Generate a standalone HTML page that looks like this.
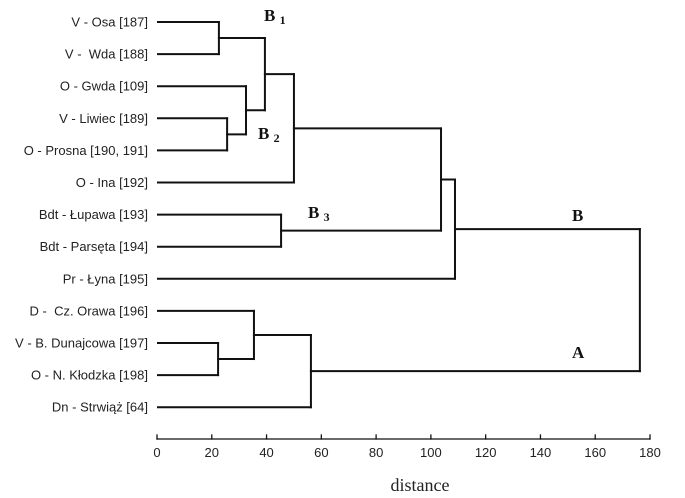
<!DOCTYPE html>
<html><head><meta charset="utf-8"><style>
body{margin:0;background:#fff}
svg{display:block}
.lf{font-family:"Liberation Sans",sans-serif;font-size:13px;fill:#222;white-space:pre}
.tk{font-family:"Liberation Sans",sans-serif;font-size:13px;fill:#222}
.gl{font-family:"Liberation Serif",serif;font-weight:bold;font-size:17px;fill:#111}
</style></head><body>
<svg id="c" width="685" height="498">
<g id="links"></g>
<g id="labels"></g>
<g id="axis"></g>
<text class="gl" x="264" y="21">B <tspan font-size="12" dy="3">1</tspan></text>
<text class="gl" x="258" y="139">B <tspan font-size="12" dy="3">2</tspan></text>
<text class="gl" x="308" y="218">B <tspan font-size="12" dy="3">3</tspan></text>
<text class="gl" x="572" y="221">B</text>
<text class="gl" x="572" y="358">A</text>
<text x="420" y="491" text-anchor="middle" font-family="Liberation Serif,serif" font-size="18" fill="#222">distance</text>
</svg>
<script>
const leaves=["V - Osa [187]","V -  Wda [188]","O - Gwda [109]","V - Liwiec [189]","O - Prosna [190, 191]","O - Ina [192]","Bdt - Łupawa [193]","Bdt - Parsęta [194]","Pr - Łyna [195]","D -  Cz. Orawa [196]","V - B. Dunajcowa [197]","O - N. Kłodzka [198]","Dn - Strwiąż [64]"];
const merges=[[0,1,22.6],[3,4,25.6],[2,"m1",32.5],["m0","m2",39.4],["m3",5,50],[6,7,45.3],["m4","m5",103.7],["m6",8,108.8],[10,11,22.3],[9,"m8",35.4],["m9",12,56.2],["m7","m10",176.3]];
const ticks=[0,20,40,60,80,100,120,140,160,180];
const X0=157,UX=(650-157)/180,Y0=22,DY=32.1,AY=439;
const sx=d=>X0+d*UX, sy=i=>Y0+i*DY;
const ns="http://www.w3.org/2000/svg";
const L=document.getElementById('links'),LB=document.getElementById('labels'),AX=document.getElementById('axis');
function line(g,x1,y1,x2,y2,w){const l=document.createElementNS(ns,'line');l.setAttribute('x1',x1);l.setAttribute('y1',y1);l.setAttribute('x2',x2);l.setAttribute('y2',y2);l.setAttribute('stroke','#111');l.setAttribute('stroke-width',w);l.setAttribute('stroke-linecap','square');g.appendChild(l);return l;}
leaves.forEach((t,i)=>{const e=document.createElementNS(ns,'text');e.setAttribute('class','lf');e.setAttribute('x',148);e.setAttribute('y',sy(i)+4.5);e.setAttribute('text-anchor','end');e.textContent=t;


LB.appendChild(e);});
const pos={};
function node(n){if(typeof n==="number")return {x:sx(0)+1,y:sy(n)};return pos[n];}
merges.forEach((m,k)=>{const a=node(m[0]),b=node(m[1]),x=sx(m[2]);
const g=document.createElementNS(ns,'g');


line(g,a.x,a.y,x,a.y,2);line(g,b.x,b.y,x,b.y,2);line(g,x,a.y,x,b.y,2);L.appendChild(g);
pos["m"+k]={x:x,y:(a.y+b.y)/2};});
line(AX,sx(0),AY,sx(180),AY,1.3);
ticks.forEach(t=>{line(AX,sx(t),AY-4,sx(t),AY,1.3);
const e=document.createElementNS(ns,'text');e.setAttribute('class','tk');e.setAttribute('x',sx(t));e.setAttribute('y',AY+18);e.setAttribute('text-anchor','middle');e.textContent=t;


AX.appendChild(e);});
</script>
</body></html>
